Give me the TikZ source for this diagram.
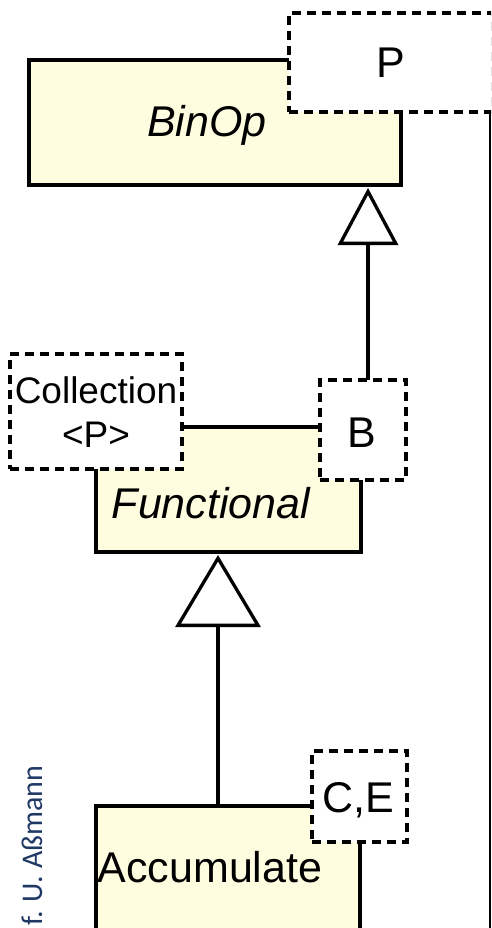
\documentclass[tikz,border=0pt]{standalone}
\usepackage{fontspec}
\setmainfont{Liberation Sans}
\newfontfamily\calibrifont{Carlito}
\usetikzlibrary{arrows.meta}
\definecolor{boxyellow}{RGB}{255,253,224}
\definecolor{authorblue}{RGB}{31,56,100}
\tikzset{
  ybox/.style={draw=black, fill=boxyellow, line width=3.3pt, inner sep=0pt, outer sep=0pt},
  pbox/.style={draw=black, fill=white, line width=3.3pt, dash pattern=on 9pt off 6pt, inner sep=0pt, outer sep=0pt},
  bigtext/.style={font=\fontsize{43pt}{48pt}\selectfont, anchor=base, inner sep=0pt},
  midtext/.style={font=\fontsize{37pt}{42pt}\selectfont, anchor=base, inner sep=0pt},
  inh/.style={line width=3.3pt, draw=black}
}
\begin{document}
\begin{tikzpicture}[x=1pt, y=-1pt]
\useasboundingbox (0,0) rectangle (491,928);
\clip (0,0) rectangle (491,928);
% yellow class boxes
\node[ybox, minimum width=372pt, minimum height=125pt] (BinOp) at (215,122.5) {};
\node[ybox, minimum width=265pt, minimum height=125pt] (Functional) at (228.5,489.5) {};
\node[ybox, minimum width=264pt, minimum height=140pt] (Accumulate) at (228,876) {};
% dashed parameter boxes
\node[pbox, minimum width=204pt, minimum height=99pt] (P) at (391,62.5) {};
\node[pbox, minimum width=172pt, minimum height=115pt] (Coll) at (96,411.5) {};
\node[pbox, minimum width=86pt, minimum height=100pt] (B) at (363,430) {};
\node[pbox, minimum width=95pt, minimum height=91pt] (CE) at (359.5,796.5) {};
% texts
\node[bigtext, font=\fontsize{43pt}{48pt}\selectfont\itshape] (tBinOp) at (207,137) {BinOp};
\node[bigtext] (tP) at (391,78) {P};
\node[midtext] (tColl) at (96,403) {Collection};
\node[midtext] (tCollP) at (96,447) {<P>};
\node[bigtext] (tB) at (362,447) {B};
\node[bigtext, font=\fontsize{43pt}{48pt}\selectfont\itshape] (tFunc) at (211,518) {Functional};
\node[bigtext] (tAcc) at (210,882) {Accumulate};
\node[bigtext] (tCE) at (358,812) {C,E};
\node[rotate=90, anchor=base west, inner sep=0pt, text=authorblue, font=\calibrifont\fontsize{30pt}{34pt}\selectfont] (author) at (42,926) {f. U. Aßmann};
% inheritance connectors
\coordinate (bStart) at ([xshift=5pt]B.north);
\coordinate (aStart) at ([xshift=-10pt]Accumulate.north);
\draw[inh, -{Triangle[length=57pt, width=60pt, fill=white, line width=3.3pt]}, shorten >=3pt]
  (bStart) -- (BinOp.south -| bStart);
\draw[inh, -{Triangle[length=72pt, width=85pt, fill=white, line width=3.3pt]}, shorten >=3pt]
  (aStart) -- (Functional.south -| aStart);
% right frame line
\coordinate (R1) at (490,112);
\coordinate (R2) at (490,930);
\draw[line width=1.6pt] (R1) -- (R2);
\end{tikzpicture}
\end{document}
